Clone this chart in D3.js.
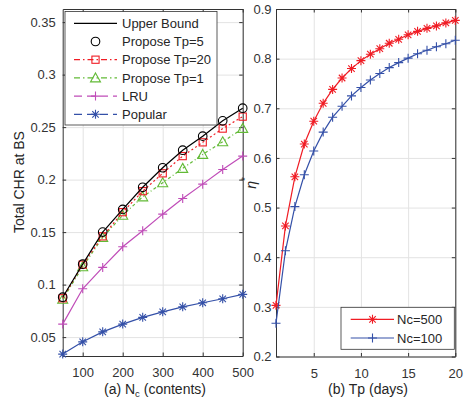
<!DOCTYPE html>
<html>
<head>
<meta charset="utf-8">
<script src="https://cdn.jsdelivr.net/npm/d3@7"></script>
<style>
  body { margin: 0; background: #fff; }
  svg { font-family: "Liberation Sans", Arial, sans-serif; }
  .tick text { fill: #333; font-size: 13px; }
  .domain { stroke: #333; }
  .tick line { stroke: #333; }
  .grid .tick line { stroke: #e3e3e3; }
  .grid .domain { display: none; }
</style>
</head>
<body>
<div id="chart"></div>
<script>
// (a) cache hit ratio vs number of contents
let nc = [50, 100, 150, 200, 250, 300, 350, 400, 450, 500]
let upperBound = [0.088, 0.1195, 0.150, 0.1716, 0.1927, 0.2113, 0.228, 0.2414, 0.256, 0.268]
let proposeTp5 = [0.088, 0.1195, 0.150, 0.1716, 0.1927, 0.2113, 0.228, 0.2414, 0.256, 0.268]
let proposeTp20 = [0.087, 0.119, 0.146, 0.169, 0.189, 0.206, 0.2224, 0.2355, 0.2486, 0.260]
let proposeTp1 = [0.086, 0.117, 0.145, 0.166, 0.1836, 0.197, 0.2107, 0.224, 0.236, 0.2488]
let lru = [0.0624, 0.096, 0.1164, 0.136, 0.1513, 0.1671, 0.182, 0.1957, 0.2097, 0.2224]
let popular = [0.0338, 0.0455, 0.055, 0.0624, 0.0688, 0.0741, 0.0788, 0.0827, 0.0865, 0.0907]

// (b) eta* vs Tp
let tp = [1, 2, 3, 4, 5, 6, 7, 8, 9, 10, 11, 12, 13, 14, 15, 16, 17, 18, 19, 20]
let nc500 = [0.303, 0.463, 0.562, 0.628, 0.674, 0.71, 0.738, 0.761, 0.78, 0.796, 0.809, 0.82, 0.831, 0.839, 0.848, 0.855, 0.861, 0.866, 0.872, 0.877]
let nc100 = [0.267, 0.413, 0.502, 0.566, 0.614, 0.652, 0.682, 0.704, 0.725, 0.742, 0.757, 0.770, 0.782, 0.792, 0.801, 0.810, 0.817, 0.824, 0.830, 0.837]

let leftXTicks = [100, 200, 300, 400, 500]
let leftYTicks = [0.05, 0.1, 0.15, 0.2, 0.25, 0.3, 0.35]
let rightXTicks = [5, 10, 15, 20]
let rightYTicks = [0.2, 0.3, 0.4, 0.5, 0.6, 0.7, 0.8, 0.9]

let width = 466
let height = 400

let red = "#f01c24", green = "#62ba36", magenta = "#c04cb8", blue = "#3450a8"

let svg = d3.select('#chart')
            .append('svg')
            .attr('width', width)
            .attr('height', height)

// marker shapes
function marker(g, type, color, x, y) {
    let s = 4.5
    if (type == 'circle') {
        g.append('circle').attr('cx', x).attr('cy', y).attr('r', 4.3)
         .attr('fill', 'none').attr('stroke', color).attr('stroke-width', 1.1)
    } else if (type == 'square') {
        g.append('rect').attr('x', x - 3.6).attr('y', y - 3.6).attr('width', 7.2).attr('height', 7.2)
         .attr('fill', 'none').attr('stroke', color).attr('stroke-width', 1.1)
    } else if (type == 'triangle') {
        g.append('path').attr('d', `M${x},${y - 5}L${x + 5},${y + 4}L${x - 5},${y + 4}Z`)
         .attr('fill', 'none').attr('stroke', color).attr('stroke-width', 1.1)
    } else if (type == 'plus') {
        g.append('path').attr('d', `M${x - s},${y}H${x + s}M${x},${y - s}V${y + s}`)
         .attr('stroke', color).attr('stroke-width', 1.1)
    } else if (type == 'star') {
        let d = s * 0.72
        g.append('path')
         .attr('d', `M${x - s},${y}H${x + s}M${x},${y - s}V${y + s}M${x - d},${y - d}L${x + d},${y + d}M${x - d},${y + d}L${x + d},${y - d}`)
         .attr('stroke', color).attr('stroke-width', 1.1)
    }
}

function drawPanel(box, xDomain, yDomain, xTicks, yTicks, xFormat, yFormat, yPad) {
    let x = d3.scaleLinear().domain(xDomain).range([box.left, box.right])
    let y = d3.scaleLinear().domain(yDomain).range([box.bottom, box.top])
    let w = box.right - box.left, h = box.bottom - box.top

    // grid
    svg.append('g').attr('class', 'grid')
       .attr('transform', `translate(0,${box.bottom})`)
       .call(d3.axisBottom(x).tickValues(xTicks).tickSize(-h).tickFormat(''))
    svg.append('g').attr('class', 'grid')
       .attr('transform', `translate(${box.left},0)`)
       .call(d3.axisLeft(y).tickValues(yTicks).tickSize(-w).tickFormat(''))

    // axes with inward ticks on every side
    svg.append('g').attr('transform', `translate(0,${box.bottom})`)
       .call(d3.axisBottom(x).tickValues(xTicks).tickSizeInner(-3.5).tickSizeOuter(0).tickPadding(12).tickFormat(xFormat))
    svg.append('g').attr('transform', `translate(0,${box.top})`)
       .call(d3.axisTop(x).tickValues(xTicks).tickSizeInner(-3.5).tickSizeOuter(0).tickFormat(''))
    svg.append('g').attr('transform', `translate(${box.left},0)`)
       .call(d3.axisLeft(y).tickValues(yTicks).tickSizeInner(-3.5).tickSizeOuter(0).tickPadding(yPad).tickFormat(yFormat))
    svg.append('g').attr('transform', `translate(${box.right},0)`)
       .call(d3.axisRight(y).tickValues(yTicks).tickSizeInner(-3.5).tickSizeOuter(0).tickFormat(''))

    svg.selectAll('.tick text').attr('font-family', null)
    return {x: x, y: y}
}

// ---------- panel (a) ----------
let boxA = {left: 62.7, right: 242.7, top: 9, bottom: 356}
let a = drawPanel(boxA, [50, 500], [0.032, 0.3625], leftXTicks, leftYTicks, d3.format('d'), d => d3.format('')(+d.toFixed(2)), 7)

let seriesA = [
    {name: 'Upper Bound', values: upperBound, color: '#000', line: true, dash: null, legendDash: null, mark: null},
    {name: 'Propose Tp=5', values: proposeTp5, color: '#000', line: false, dash: null, legendDash: null, mark: 'circle'},
    {name: 'Propose Tp=20', values: proposeTp20, color: red, line: true, dash: '2,2.5', legendDash: '6,3,1.5,3', mark: 'square'},
    {name: 'Propose Tp=1', values: proposeTp1, color: green, line: true, dash: '3,2.5,1,2.5', legendDash: '6,3,1.5,3', mark: 'triangle'},
    {name: 'LRU', values: lru, color: magenta, line: true, dash: null, legendDash: '8,5', mark: 'plus'},
    {name: 'Popular', values: popular, color: blue, line: true, dash: null, legendDash: '8,5', mark: 'star'}
]

let lineA = d3.line().x((d, i) => a.x(nc[i])).y(d => a.y(d))

seriesA.slice().reverse().forEach(s => {
    let g = svg.append('g')
    if (s.line) {
        g.append('path').attr('d', lineA(s.values))
         .attr('fill', 'none').attr('stroke', s.color).attr('stroke-width', 1.2)
         .attr('stroke-dasharray', s.dash)
    }
    if (s.mark) {
        s.values.forEach((v, i) => marker(g, s.mark, s.color, a.x(nc[i]), a.y(v)))
    }
})

// legend (a)
let legA = svg.append('g')
legA.append('rect').attr('x', 65).attr('y', 11.5).attr('width', 152).attr('height', 113.5)
    .attr('fill', '#fff').attr('stroke', '#333').attr('stroke-width', 0.8)
seriesA.forEach((s, i) => {
    let ly = 23.3 + i * 18.2
    if (s.line) {
        legA.append('line').attr('x1', 74).attr('x2', 117).attr('y1', ly).attr('y2', ly)
            .attr('stroke', s.color).attr('stroke-width', 1.2).attr('stroke-dasharray', s.legendDash)
    }
    if (s.mark) marker(legA, s.mark, s.color, 95.5, ly)
    legA.append('text').attr('x', 122).attr('y', ly + 4.6)
        .attr('font-size', 13).attr('fill', '#262626').text(s.name)
})

svg.append('text')
   .attr('transform', `translate(24,182) rotate(-90)`)
   .attr('text-anchor', 'middle').attr('font-size', 14).attr('fill', '#262626')
   .text('Total CHR at BS')

let xlabA = svg.append('text').attr('x', 155).attr('y', 394)
   .attr('text-anchor', 'middle').attr('font-size', 14).attr('fill', '#262626')
xlabA.append('tspan').text('(a) N')
xlabA.append('tspan').attr('font-size', 9.5).attr('dy', 3).text('c')
xlabA.append('tspan').attr('dy', -3).text(' (contents)')

// ---------- panel (b) ----------
let boxB = {left: 276, right: 455.3, top: 9, bottom: 356.5}
let b = drawPanel(boxB, [1, 20], [0.2, 0.9], rightXTicks, rightYTicks, d3.format('d'), d3.format('.1f'), 4.5)

let seriesB = [
    {name: 'Nc=500', values: nc500, color: red, mark: 'star'},
    {name: 'Nc=100', values: nc100, color: blue, mark: 'plus'}
]

let lineB = d3.line().x((d, i) => b.x(tp[i])).y(d => b.y(d))

seriesB.forEach(s => {
    let g = svg.append('g')
    g.append('path').attr('d', lineB(s.values))
     .attr('fill', 'none').attr('stroke', s.color).attr('stroke-width', 1.2)
    s.values.forEach((v, i) => marker(g, s.mark, s.color, b.x(tp[i]), b.y(v)))
})

// legend (b)
let legB = svg.append('g')
legB.append('rect').attr('x', 341).attr('y', 307.3).attr('width', 113.3).attr('height', 42)
    .attr('fill', '#fff').attr('stroke', '#333').attr('stroke-width', 0.8)
seriesB.forEach((s, i) => {
    let ly = 319.3 + i * 18.7
    legB.append('line').attr('x1', 350.7).attr('x2', 394).attr('y1', ly).attr('y2', ly)
        .attr('stroke', s.color).attr('stroke-width', 1.2)
    marker(legB, s.mark, s.color, 372.5, ly)
    legB.append('text').attr('x', 397).attr('y', ly + 4.6)
        .attr('font-size', 13).attr('fill', '#262626').text(s.name)
})

let ylabB = svg.append('text')
   .attr('transform', `translate(256,183) rotate(-90)`)
   .attr('text-anchor', 'middle').attr('font-size', 14).attr('fill', '#262626')
ylabB.append('tspan').attr('font-style', 'italic').text('η')
ylabB.append('tspan').attr('font-size', 10).attr('dy', -7).text('*')

svg.append('text').attr('x', 368).attr('y', 394)
   .attr('text-anchor', 'middle').attr('font-size', 14).attr('fill', '#262626')
   .text('(b) Tp (days)')
</script>
</body>
</html>
